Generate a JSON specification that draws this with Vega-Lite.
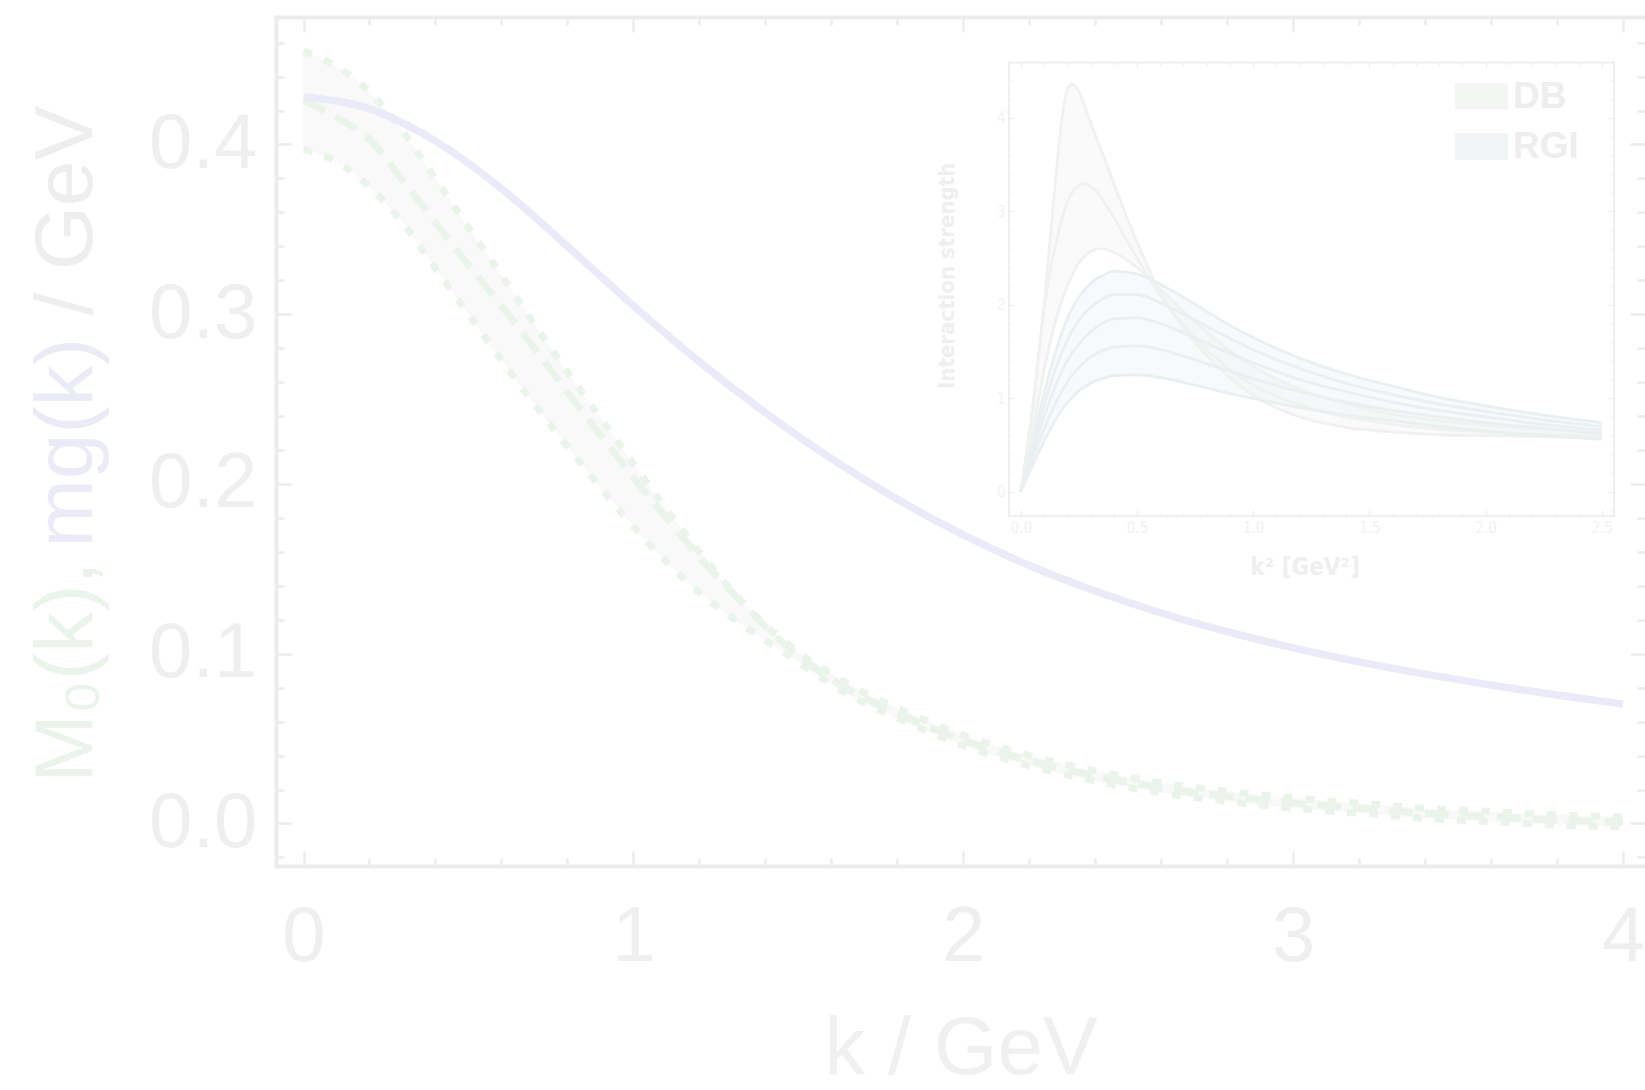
{
  "$schema": "https://vega.github.io/schema/vega-lite/v6.json",
  "width": 1369,
  "height": 849,
  "autosize": {"type": "none"},
  "padding": {"left": 276, "top": 17, "right": 0, "bottom": 224},
  "background": "white",
  "config": {
    "font": "Liberation Sans",
    "view": {"stroke": null},
    "axis": {"grid": false, "labelFlush": false, "labelOverlap": false, "domainColor": "#ececec", "tickColor": "#ececec", "domainWidth": 3.5, "tickWidth": 2.5, "domainCap": "square"}
  },
  "datasets": {
    "m0": [
      {"k": 0.0, "up": 0.455, "mid": 0.426, "lo": 0.397},
      {"k": 0.1, "up": 0.446, "mid": 0.416, "lo": 0.390},
      {"k": 0.2, "up": 0.431, "mid": 0.403, "lo": 0.375},
      {"k": 0.3, "up": 0.408, "mid": 0.379, "lo": 0.354},
      {"k": 0.4, "up": 0.380, "mid": 0.354, "lo": 0.327},
      {"k": 0.5, "up": 0.351, "mid": 0.329, "lo": 0.300},
      {"k": 0.6, "up": 0.323, "mid": 0.305, "lo": 0.273},
      {"k": 0.7, "up": 0.294, "mid": 0.280, "lo": 0.247},
      {"k": 0.8, "up": 0.266, "mid": 0.254, "lo": 0.222},
      {"k": 0.9, "up": 0.239, "mid": 0.229, "lo": 0.198},
      {"k": 1.0, "up": 0.212, "mid": 0.204, "lo": 0.175},
      {"k": 1.1, "up": 0.185, "mid": 0.180, "lo": 0.154},
      {"k": 1.2, "up": 0.160, "mid": 0.157, "lo": 0.136},
      {"k": 1.3, "up": 0.137, "mid": 0.136, "lo": 0.121},
      {"k": 1.4, "up": 0.117, "mid": 0.116, "lo": 0.108},
      {"k": 1.5, "up": 0.101, "mid": 0.099, "lo": 0.095},
      {"k": 1.6, "up": 0.088, "mid": 0.085, "lo": 0.082},
      {"k": 1.7, "up": 0.077, "mid": 0.074, "lo": 0.071},
      {"k": 1.8, "up": 0.068, "mid": 0.065, "lo": 0.062},
      {"k": 2.0, "up": 0.052, "mid": 0.049, "lo": 0.046},
      {"k": 2.2, "up": 0.040, "mid": 0.037, "lo": 0.034},
      {"k": 2.4, "up": 0.031, "mid": 0.028, "lo": 0.025},
      {"k": 2.6, "up": 0.024, "mid": 0.021, "lo": 0.018},
      {"k": 2.8, "up": 0.019, "mid": 0.016, "lo": 0.013},
      {"k": 3.0, "up": 0.015, "mid": 0.012, "lo": 0.009},
      {"k": 3.2, "up": 0.012, "mid": 0.009, "lo": 0.006},
      {"k": 3.4, "up": 0.009, "mid": 0.006, "lo": 0.003},
      {"k": 3.6, "up": 0.007, "mid": 0.004, "lo": 0.001},
      {"k": 3.8, "up": 0.005, "mid": 0.002, "lo": -0.001},
      {"k": 4.0, "up": 0.004, "mid": 0.001, "lo": -0.002}
    ],
    "mg": [
      {"k": 0.0, "m": 0.428}, {"k": 0.2, "m": 0.421}, {"k": 0.4, "m": 0.402}, {"k": 0.6, "m": 0.374},
      {"k": 0.8, "m": 0.340}, {"k": 1.0, "m": 0.305}, {"k": 1.2, "m": 0.272}, {"k": 1.4, "m": 0.242},
      {"k": 1.6, "m": 0.215}, {"k": 1.8, "m": 0.191}, {"k": 2.0, "m": 0.170}, {"k": 2.2, "m": 0.152},
      {"k": 2.4, "m": 0.137}, {"k": 2.6, "m": 0.124}, {"k": 2.8, "m": 0.113}, {"k": 3.0, "m": 0.1035},
      {"k": 3.2, "m": 0.0952}, {"k": 3.4, "m": 0.088}, {"k": 3.6, "m": 0.0815}, {"k": 3.8, "m": 0.0757},
      {"k": 4.0, "m": 0.0703}
    ],
    "inset": [
      {"x": 0, "A": 0, "B": 0, "C": 0, "D": 0, "E": 0, "F": 0, "G": 0, "H": 0},
      {"x": 0.05, "A": 0.9, "B": 0.85, "C": 0.62, "D": 0.5, "E": 0.45, "F": 0.4, "G": 0.34, "H": 0.28},
      {"x": 0.1, "A": 2.0, "B": 1.95, "C": 1.3, "D": 1.05, "E": 0.92, "F": 0.8, "G": 0.67, "H": 0.54},
      {"x": 0.15, "A": 3.35, "B": 2.65, "C": 1.83, "D": 1.5, "E": 1.32, "F": 1.14, "G": 0.95, "H": 0.77},
      {"x": 0.175, "A": 3.95, "B": 2.9, "C": 2.03, "D": 1.69, "E": 1.48, "F": 1.28, "G": 1.07, "H": 0.87},
      {"x": 0.2, "A": 4.3, "B": 3.1, "C": 2.2, "D": 1.85, "E": 1.62, "F": 1.4, "G": 1.17, "H": 0.95},
      {"x": 0.225, "A": 4.36, "B": 3.22, "C": 2.34, "D": 1.98, "E": 1.74, "F": 1.5, "G": 1.26, "H": 1.02},
      {"x": 0.25, "A": 4.28, "B": 3.28, "C": 2.45, "D": 2.08, "E": 1.83, "F": 1.58, "G": 1.33, "H": 1.08},
      {"x": 0.275, "A": 4.12, "B": 3.3, "C": 2.52, "D": 2.16, "E": 1.91, "F": 1.65, "G": 1.39, "H": 1.12},
      {"x": 0.3, "A": 3.95, "B": 3.27, "C": 2.57, "D": 2.23, "E": 1.97, "F": 1.71, "G": 1.44, "H": 1.16},
      {"x": 0.35, "A": 3.63, "B": 3.13, "C": 2.6, "D": 2.31, "E": 2.06, "F": 1.8, "G": 1.51, "H": 1.21},
      {"x": 0.4, "A": 3.3, "B": 2.93, "C": 2.56, "D": 2.36, "E": 2.11, "F": 1.85, "G": 1.55, "H": 1.24},
      {"x": 0.5, "A": 2.67, "B": 2.5, "C": 2.4, "D": 2.33, "E": 2.11, "F": 1.86, "G": 1.56, "H": 1.25},
      {"x": 0.6, "A": 2.13, "B": 2.1, "C": 2.17, "D": 2.22, "E": 2.02, "F": 1.8, "G": 1.52, "H": 1.22},
      {"x": 0.7, "A": 1.75, "B": 1.78, "C": 1.93, "D": 2.08, "E": 1.9, "F": 1.7, "G": 1.45, "H": 1.17},
      {"x": 0.8, "A": 1.46, "B": 1.52, "C": 1.71, "D": 1.93, "E": 1.77, "F": 1.59, "G": 1.37, "H": 1.11},
      {"x": 0.9, "A": 1.22, "B": 1.31, "C": 1.51, "D": 1.78, "E": 1.64, "F": 1.48, "G": 1.29, "H": 1.05},
      {"x": 1.0, "A": 1.03, "B": 1.14, "C": 1.34, "D": 1.65, "E": 1.52, "F": 1.38, "G": 1.21, "H": 1.0},
      {"x": 1.2, "A": 0.8, "B": 0.93, "C": 1.1, "D": 1.43, "E": 1.32, "F": 1.2, "G": 1.07, "H": 0.9},
      {"x": 1.4, "A": 0.69, "B": 0.8, "C": 0.94, "D": 1.26, "E": 1.16, "F": 1.07, "G": 0.96, "H": 0.82},
      {"x": 1.6, "A": 0.64, "B": 0.72, "C": 0.83, "D": 1.13, "E": 1.04, "F": 0.96, "G": 0.87, "H": 0.76},
      {"x": 1.8, "A": 0.61, "B": 0.67, "C": 0.76, "D": 1.01, "E": 0.94, "F": 0.87, "G": 0.8, "H": 0.7},
      {"x": 2.0, "A": 0.6, "B": 0.64, "C": 0.71, "D": 0.92, "E": 0.86, "F": 0.8, "G": 0.74, "H": 0.65},
      {"x": 2.25, "A": 0.59, "B": 0.61, "C": 0.67, "D": 0.82, "E": 0.77, "F": 0.72, "G": 0.68, "H": 0.6},
      {"x": 2.5, "A": 0.58, "B": 0.6, "C": 0.64, "D": 0.74, "E": 0.7, "F": 0.66, "G": 0.62, "H": 0.56}
    ]
  },
  "layer": [
    {
      "data": {"name": "m0"},
      "mark": {"type": "area", "color": "#f9f9f9", "opacity": 1, "interpolate": "monotone"},
      "encoding": {
        "x": {"field": "k", "type": "quantitative", "scale": {"domain": [-0.0834, 4.0664], "nice": false, "zero": false},
          "axis": {"orient": "bottom", "values": [0, 1, 2, 3, 4], "tickSize": -15, "labelPadding": 47, "labelFontSize": 78, "labelColor": "#efefef",
            "title": "k / GeV", "titleFontSize": 82, "titleFontWeight": "normal", "titleColor": "#f0f0f0", "titleBaseline": "alphabetic", "titleY": 207}},
        "y": {"field": "up", "type": "quantitative", "scale": {"domain": [-0.02504, 0.4751], "nice": false, "zero": false},
          "axis": {"orient": "left", "values": [0, 0.1, 0.2, 0.3, 0.4], "format": ".1f", "tickSize": -15, "labelPadding": 34, "labelFontSize": 78, "labelColor": "#efefef",
            "title": "/ GeV", "titleFontSize": 82, "titleFontWeight": "normal", "titleColor": "#eeeeee", "titleBaseline": "alphabetic", "titleAlign": "left", "titleX": -185, "titleY": 298}},
        "y2": {"field": "lo"}
      }
    },
    {
      "data": {"name": "m0"},
      "mark": {"type": "line", "color": "#ebf4eb", "strokeWidth": 7, "strokeDash": [9, 13], "interpolate": "monotone"},
      "encoding": {
        "x": {"field": "k", "type": "quantitative", "scale": {"domain": [-0.0834, 4.0664], "nice": false, "zero": false},
          "axis": {"orient": "bottom", "values": [0.2, 0.4, 0.6, 0.8, 1.2, 1.4, 1.6, 1.8, 2.2, 2.4, 2.6, 2.8, 3.2, 3.4, 3.6, 3.8], "tickSize": -8, "labels": false, "title": null}},
        "y": {"field": "up", "type": "quantitative", "scale": {"domain": [-0.02504, 0.4751], "nice": false, "zero": false},
          "axis": {"orient": "left", "values": [-0.02, 0.02, 0.04, 0.06, 0.08, 0.12, 0.14, 0.16, 0.18, 0.22, 0.24, 0.26, 0.28, 0.32, 0.34, 0.36, 0.38, 0.42, 0.44, 0.46], "tickSize": -8, "labels": false,
            "title": "M₀(k),", "titleFontSize": 82, "titleFontWeight": "normal", "titleColor": "#ebf4eb", "titleBaseline": "alphabetic", "titleAlign": "left", "titleX": -185, "titleY": 765}}
      }
    },
    {
      "data": {"name": "m0"},
      "mark": {"type": "line", "color": "#ebf4eb", "strokeWidth": 7, "strokeDash": [24, 12], "interpolate": "monotone"},
      "encoding": {
        "x": {"field": "k", "type": "quantitative", "scale": {"domain": [-0.0834, 4.0664], "nice": false, "zero": false},
          "axis": {"orient": "top", "values": [0, 1, 2, 3, 4], "tickSize": -15, "labels": false, "title": null}},
        "y": {"field": "mid", "type": "quantitative", "scale": {"domain": [-0.02504, 0.4751], "nice": false, "zero": false},
          "axis": {"orient": "right", "values": [0, 0.1, 0.2, 0.3, 0.4], "tickSize": -15, "labels": false, "domain": false, "title": null}}
      }
    },
    {
      "data": {"name": "m0"},
      "mark": {"type": "line", "color": "#ebf4eb", "strokeWidth": 7, "strokeDash": [9, 13], "interpolate": "monotone"},
      "encoding": {
        "x": {"field": "k", "type": "quantitative", "scale": {"domain": [-0.0834, 4.0664], "nice": false, "zero": false},
          "axis": {"orient": "top", "values": [0.2, 0.4, 0.6, 0.8, 1.2, 1.4, 1.6, 1.8, 2.2, 2.4, 2.6, 2.8, 3.2, 3.4, 3.6, 3.8], "tickSize": -8, "labels": false, "title": null}},
        "y": {"field": "lo", "type": "quantitative", "scale": {"domain": [-0.02504, 0.4751], "nice": false, "zero": false},
          "axis": {"orient": "right", "values": [-0.02, 0.02, 0.04, 0.06, 0.08, 0.12, 0.14, 0.16, 0.18, 0.22, 0.24, 0.26, 0.28, 0.32, 0.34, 0.36, 0.38, 0.42, 0.44, 0.46], "tickSize": -8, "labels": false, "domain": false, "title": null}}
      }
    },
    {
      "data": {"name": "mg"},
      "mark": {"type": "line", "color": "#eaeaf8", "strokeWidth": 7.5, "interpolate": "monotone"},
      "encoding": {
        "x": {"field": "k", "type": "quantitative", "scale": {"domain": [-0.0834, 4.0664], "nice": false, "zero": false}, "axis": null},
        "y": {"field": "m", "type": "quantitative", "scale": {"domain": [-0.02504, 0.4751], "nice": false, "zero": false},
          "axis": {"orient": "left", "domain": false, "ticks": false, "labels": false,
            "title": "mg(k)", "titleFontSize": 82, "titleFontWeight": "normal", "titleColor": "#ebebf8", "titleBaseline": "alphabetic", "titleAlign": "left", "titleX": -185, "titleY": 530}}
      }
    },
    {
      "data": {"name": "inset"},
      "mark": {"type": "area", "opacity": 0.55, "interpolate": "monotone"},
      "encoding": {
        "x": {"field": "x", "type": "quantitative", "scale": {"domain": [-0.053, 2.551], "range": [732.5, 1337.6], "nice": false, "zero": false},
          "axis": {"orient": "bottom", "offset": -350.3, "values": [0, 0.5, 1, 1.5, 2, 2.5], "format": ".1f", "tickSize": -6, "tickWidth": 1.2, "domainWidth": 1.5, "domainColor": "#eeeeee", "tickColor": "#eeeeee",
            "labelFont": "Liberation Sans Narrow, DejaVu Sans Condensed, sans-serif", "labelFontSize": 15, "labelColor": "#f2f2f2", "labelPadding": 10.6,
            "title": "k² [GeV²]", "titleFont": "Liberation Sans Narrow, DejaVu Sans Condensed, sans-serif", "titleFontWeight": "bold", "titleFontSize": 24, "titleColor": "#efefef", "titleBaseline": "alphabetic", "titleX": 1028.6, "titleY": 59}},
        "y": {"field": "A", "type": "quantitative", "scale": {"domain": [-0.256, 4.596], "range": [498.7, 45.1], "nice": false, "zero": false},
          "axis": {"orient": "left", "offset": -732.5, "values": [0, 1, 2, 3, 4], "tickSize": -6, "tickWidth": 1.2, "domainWidth": 1.5, "domainColor": "#eeeeee", "tickColor": "#eeeeee",
            "labelFont": "Liberation Sans Narrow, DejaVu Sans Condensed, sans-serif", "labelFontSize": 15, "labelColor": "#f2f2f2", "labelPadding": 9.5,
            "title": "Interaction strength", "titleFont": "Liberation Sans Narrow, DejaVu Sans Condensed, sans-serif", "titleFontWeight": "bold", "titleFontSize": 22, "titleColor": "#efefef", "titleBaseline": "alphabetic", "titleX": -55, "titleY": 258.4}},
        "y2": {"field": "C"},
        "color": {"datum": "DB", "type": "nominal", "scale": {"domain": ["DB", "RGI"], "range": ["#f4f6f4", "#f0f4f5"]},
          "legend": {"orient": "none", "legendX": 1179, "legendY": 53, "title": null, "symbolType": "M-1,-0.5H1V0.5H-1Z", "symbolSize": 2809, "symbolStrokeWidth": 0, "symbolOpacity": 1,
            "labelFont": "Liberation Sans", "labelFontWeight": "bold", "labelFontSize": 37, "labelColor": "#eeeeee", "labelOffset": 5, "rowPadding": 5, "padding": 0}}
      }
    },
    {
      "data": {"name": "inset"},
      "mark": {"type": "area", "opacity": 0.55, "interpolate": "monotone"},
      "encoding": {
        "x": {"field": "x", "type": "quantitative", "scale": {"domain": [-0.053, 2.551], "range": [732.5, 1337.6], "nice": false, "zero": false},
          "axis": {"orient": "bottom", "offset": -350.3, "values": [0.1, 0.2, 0.3, 0.4, 0.6, 0.7, 0.8, 0.9, 1.1, 1.2, 1.3, 1.4, 1.6, 1.7, 1.8, 1.9, 2.1, 2.2, 2.3, 2.4], "tickSize": -3, "tickWidth": 1.2, "domainWidth": 1.5, "domainColor": "#eeeeee", "tickColor": "#eeeeee", "labels": false, "title": null}},
        "y": {"field": "D", "type": "quantitative", "scale": {"domain": [-0.256, 4.596], "range": [498.7, 45.1], "nice": false, "zero": false},
          "axis": {"orient": "left", "offset": -732.5, "values": [-0.2, 0.2, 0.4, 0.6, 0.8, 1.2, 1.4, 1.6, 1.8, 2.2, 2.4, 2.6, 2.8, 3.2, 3.4, 3.6, 3.8, 4.2, 4.4], "tickSize": -3, "tickWidth": 1.2, "domainWidth": 1.5, "domainColor": "#eeeeee", "tickColor": "#eeeeee", "labels": false, "title": null}},
        "y2": {"field": "H"},
        "color": {"datum": "RGI", "type": "nominal", "scale": {"domain": ["DB", "RGI"], "range": ["#f4f6f4", "#f0f4f5"]},
          "legend": {"orient": "none", "legendX": 1179, "legendY": 53, "title": null, "symbolType": "M-1,-0.5H1V0.5H-1Z", "symbolSize": 2809, "symbolStrokeWidth": 0, "symbolOpacity": 1,
            "labelFont": "Liberation Sans", "labelFontWeight": "bold", "labelFontSize": 37, "labelColor": "#eeeeee", "labelOffset": 5, "rowPadding": 5, "padding": 0}}
      }
    },
    {
      "data": {"name": "inset"},
      "transform": [{"fold": ["A", "B", "C"], "as": ["curve", "val"]}],
      "mark": {"type": "line", "color": "#eff2ef", "strokeWidth": 2.8, "interpolate": "monotone"},
      "encoding": {
        "detail": {"field": "curve"},
        "x": {"field": "x", "type": "quantitative", "scale": {"domain": [-0.053, 2.551], "range": [732.5, 1337.6], "nice": false, "zero": false},
          "axis": {"orient": "top", "offset": -45.1, "values": [0, 0.5, 1, 1.5, 2, 2.5], "tickSize": -6, "tickWidth": 1.2, "domainWidth": 1.5, "domainColor": "#eeeeee", "tickColor": "#eeeeee", "labels": false, "title": null}},
        "y": {"field": "val", "type": "quantitative", "scale": {"domain": [-0.256, 4.596], "range": [498.7, 45.1], "nice": false, "zero": false},
          "axis": {"orient": "right", "offset": -31.4, "values": [0, 1, 2, 3, 4], "tickSize": -6, "tickWidth": 1.2, "domainWidth": 1.5, "domainColor": "#eeeeee", "tickColor": "#eeeeee", "labels": false, "title": null}}
      }
    },
    {
      "data": {"name": "inset"},
      "transform": [{"fold": ["D", "E", "F", "G", "H"], "as": ["curve", "val"]}],
      "mark": {"type": "line", "color": "#eaf0f1", "strokeWidth": 2.8, "interpolate": "monotone"},
      "encoding": {
        "detail": {"field": "curve"},
        "x": {"field": "x", "type": "quantitative", "scale": {"domain": [-0.053, 2.551], "range": [732.5, 1337.6], "nice": false, "zero": false},
          "axis": {"orient": "top", "offset": -45.1, "values": [0.1, 0.2, 0.3, 0.4, 0.6, 0.7, 0.8, 0.9, 1.1, 1.2, 1.3, 1.4, 1.6, 1.7, 1.8, 1.9, 2.1, 2.2, 2.3, 2.4], "tickSize": -3, "tickWidth": 1.2, "domainWidth": 1.5, "domainColor": "#eeeeee", "tickColor": "#eeeeee", "labels": false, "title": null}},
        "y": {"field": "val", "type": "quantitative", "scale": {"domain": [-0.256, 4.596], "range": [498.7, 45.1], "nice": false, "zero": false},
          "axis": {"orient": "right", "offset": -31.4, "values": [-0.2, 0.2, 0.4, 0.6, 0.8, 1.2, 1.4, 1.6, 1.8, 2.2, 2.4, 2.6, 2.8, 3.2, 3.4, 3.6, 3.8, 4.2, 4.4], "tickSize": -3, "tickWidth": 1.2, "domainWidth": 1.5, "domainColor": "#eeeeee", "tickColor": "#eeeeee", "labels": false, "title": null}}
      }
    }
  ],
  "resolve": {
    "scale": {"x": "independent", "y": "independent", "color": "shared"},
    "axis": {"x": "independent", "y": "independent"}
  }
}
